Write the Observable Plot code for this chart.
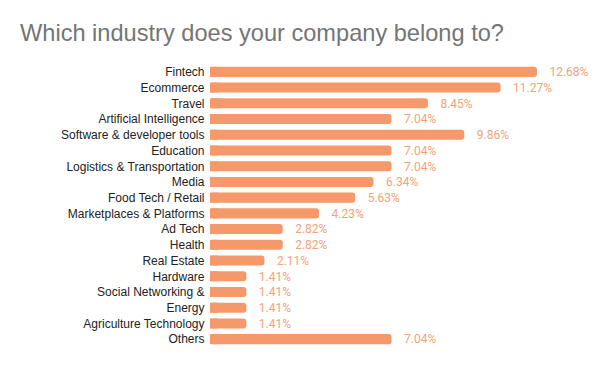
<!DOCTYPE html>
<html>
<head>
<meta charset="utf-8">
<script src="https://cdn.jsdelivr.net/npm/d3@7"></script>
<script src="https://cdn.jsdelivr.net/npm/@observablehq/plot@0.6"></script>
<style>
  html, body { margin: 0; padding: 0; background: #fff; width: 600px; height: 371px; overflow: hidden; }
  #title { font-family: "Liberation Sans", Arial, sans-serif; font-size: 23.6px; color: #757575; height: 60px; box-sizing: border-box; padding: 19px 0 0 20px; line-height: 28px; }
  #chart svg { display: block; }
</style>
</head>
<body>
<div id="title">Which industry does your company belong to?</div>
<div id="chart"></div>
<script>
const categories = [
  "Fintech", "Ecommerce", "Travel", "Artificial Intelligence", "Software & developer tools",
  "Education", "Logistics & Transportation", "Media", "Food Tech / Retail", "Marketplaces & Platforms",
  "Ad Tech", "Health", "Real Estate", "Hardware", "Social Networking &", "Energy",
  "Agriculture Technology", "Others"
];
const values = [12.68, 11.27, 8.45, 7.04, 9.86, 7.04, 7.04, 6.34, 5.63, 4.23, 2.82, 2.82, 2.11, 1.41, 1.41, 1.41, 1.41, 7.04];

const data = categories.map((c, i) => ({category: c, value: values[i]}));
const barColor = "#F5996A";
const labelColor = "#F4A27A";

const chart = Plot.plot({
  width: 600,
  height: 311,
  marginTop: 4,
  marginBottom: 24,
  marginLeft: 210,
  marginRight: 29,
  style: {fontFamily: "'Liberation Sans', Arial, sans-serif", fontSize: "12px", color: "#222"},
  x: {domain: [0, 14], axis: null},
  y: {domain: categories, paddingInner: 0.36, paddingOuter: 0.18, round: false, label: null, tickSize: 0, tickPadding: 6},
  marks: [
    Plot.barX(data, {x: "value", y: "category", fill: barColor, rx: 3}),
    Plot.barX(data, {x1: 0, x2: d => Math.min(d.value, 0.3), y: "category", fill: barColor}),
    Plot.text(data, {
      x: "value", y: "category", text: d => d.value.toFixed(2) + "%",
      textAnchor: "start", dx: 12, fill: labelColor,
      fontFamily: "Roboto, 'Liberation Sans', sans-serif", fontSize: 12
    })
  ]
});
document.getElementById("chart").appendChild(chart);
</script>
</body>
</html>
